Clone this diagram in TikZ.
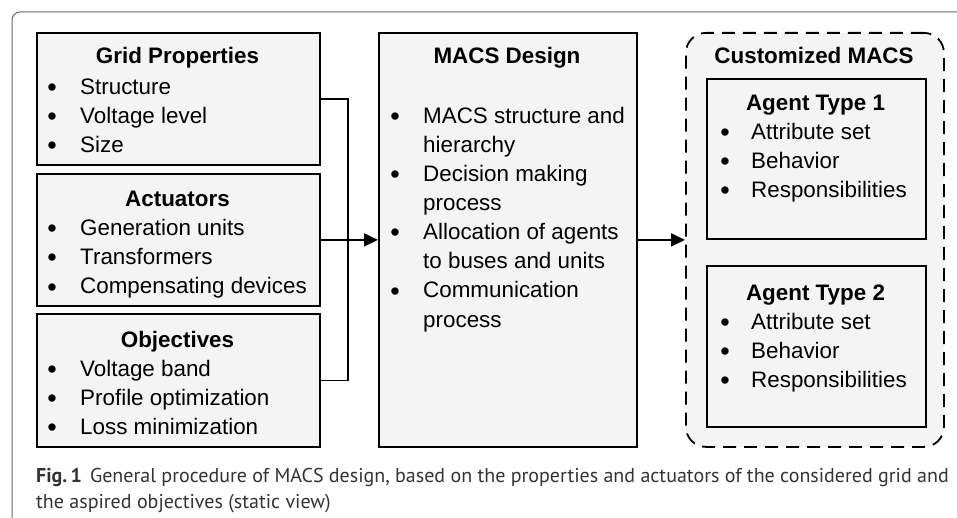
\documentclass[tikz,border=0pt]{standalone}
\usepackage{fontspec}
\setmainfont{Liberation Sans}
\newfontfamily\capfont{PT Sans}
\usetikzlibrary{arrows.meta}
\definecolor{boxfill}{HTML}{F4F4F4}
\definecolor{framegray}{HTML}{666666}
\definecolor{captext}{HTML}{333333}
\tikzset{
  box/.style={draw=black, line width=1.8pt, fill=boxfill, rectangle, inner sep=0pt, anchor=north west},
  ttl/.style={font=\fontsize{22.4}{26}\selectfont\bfseries, anchor=base, inner sep=0pt},
  itm/.style={font=\fontsize{22.4}{26}\selectfont, anchor=base west, inner sep=0pt},
  bul/.style={font=\fontsize{27}{30}\selectfont, anchor=base, inner sep=0pt, yshift=-2pt},
  conn/.style={draw=black, line width=1.8pt},
  arr/.style={conn, -{Triangle[length=14pt,width=13pt]}},
  captxt/.style={font=\capfont\fontsize{20}{24}\selectfont, text=captext, anchor=base west, inner sep=0pt},
}
\begin{document}
\begin{tikzpicture}[x=1pt,y=-1pt]
\useasboundingbox (0,0) rectangle (957,518);
% figure frame
\draw[framegray, line width=1pt, rounded corners=8pt] (12,518) -- (12,12) -- (957,12);
% boxes
\node[box, minimum width=283pt, minimum height=132pt] (grid) at (36,32) {};
\node[box, minimum width=283pt, minimum height=132pt] (act) at (36,173) {};
\node[box, minimum width=283pt, minimum height=133pt] (obj) at (36,313) {};
\node[box, minimum width=258pt, minimum height=414pt] (design) at (378,32) {};
\node[box, dashed, dash pattern=on 13pt off 8pt, rounded corners=20pt, minimum width=258pt, minimum height=414pt] (custom) at (685,32) {};
\node[box, minimum width=219pt, minimum height=160pt] (ag1) at (706,78) {};
\node[box, minimum width=219pt, minimum height=161pt] (ag2) at (706,265) {};
% connectors
\coordinate (jn) at (348,239);
\draw[conn] (grid.east) -| (jn) |- (obj.east);
\draw[arr] (act.east) -- (design.west);
\draw[arr] (design.east) -- (custom.west);
% Grid Properties
\node[ttl] (tg) at (177.5,64) {Grid Properties};
\node[bul] (bg1) at (52,95) {•}; \node[itm] (ig1) at (80,95) {Structure};
\node[bul] (bg2) at (52,124) {•}; \node[itm] (ig2) at (80,124) {Voltage level};
\node[bul] (bg3) at (52,153) {•}; \node[itm] (ig3) at (80,153) {Size};
% Actuators
\node[ttl] (ta) at (177.5,207) {Actuators};
\node[bul] (ba1) at (52,236) {•}; \node[itm] (ia1) at (80,236) {Generation units};
\node[bul] (ba2) at (52,265) {•}; \node[itm] (ia2) at (80,265) {Transformers};
\node[bul] (ba3) at (52,294) {•}; \node[itm] (ia3) at (80,294) {Compensating devices};
% Objectives
\node[ttl] (to) at (177.5,347) {Objectives};
\node[bul] (bo1) at (52,376) {•}; \node[itm] (io1) at (80,376) {Voltage band};
\node[bul] (bo2) at (52,405) {•}; \node[itm] (io2) at (80,405) {Profile optimization};
\node[bul] (bo3) at (52,434) {•}; \node[itm] (io3) at (80,434) {Loss minimization};
% MACS Design
\node[ttl] (td) at (507,64) {MACS Design};
\node[bul] (bd1) at (395,124) {•}; \node[itm] (id1) at (423,124) {MACS structure and};
\node[itm] (id1b) at (423,153) {hierarchy};
\node[bul] (bd2) at (395,182) {•}; \node[itm] (id2) at (423,182) {Decision making};
\node[itm] (id2b) at (423,211) {process};
\node[bul] (bd3) at (395,240) {•}; \node[itm] (id3) at (423,240) {Allocation of agents};
\node[itm] (id3b) at (423,269) {to buses and units};
\node[bul] (bd4) at (395,298) {•}; \node[itm] (id4) at (423,298) {Communication};
\node[itm] (id4b) at (423,327) {process};
% Customized MACS
\node[ttl] (tc) at (814,64) {Customized MACS};
\node[ttl] (t1) at (815.5,111) {Agent Type 1};
\node[bul] (b11) at (725,140) {•}; \node[itm] (i11) at (751,140) {Attribute set};
\node[bul] (b12) at (725,169) {•}; \node[itm] (i12) at (751,169) {Behavior};
\node[bul] (b13) at (725,198) {•}; \node[itm] (i13) at (751,198) {Responsibilities};
\node[ttl] (t2) at (815.5,300) {Agent Type 2};
\node[bul] (b21) at (725,329) {•}; \node[itm] (i21) at (751,329) {Attribute set};
\node[bul] (b22) at (725,358) {•}; \node[itm] (i22) at (751,358) {Behavior};
\node[bul] (b23) at (725,387) {•}; \node[itm] (i23) at (751,387) {Responsibilities};
% caption
\node[captxt] (cap1) at (36,482) {\textbf{Fig.\,1}\hspace{8pt}General procedure of MACS design, based on the properties and actuators of the considered grid and};
\node[captxt] (cap2) at (36,508) {the aspired objectives (static view)};
\end{tikzpicture}
\end{document}
